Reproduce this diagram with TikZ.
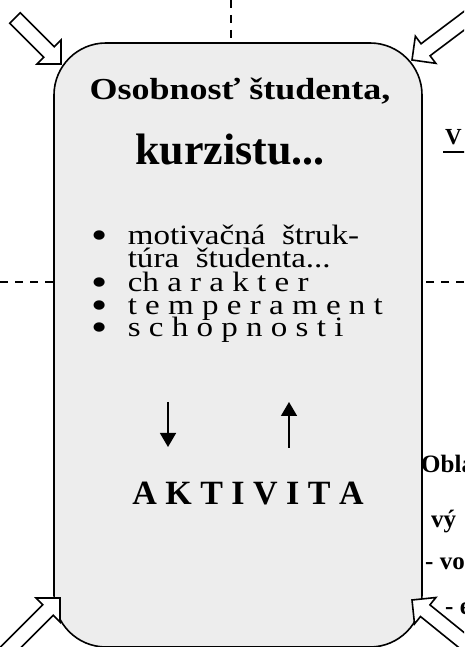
\documentclass[tikz,border=0pt]{standalone}
\usepackage{fontspec}
\setmainfont{Liberation Serif}
\newfontfamily\widefont{Liberation Serif}[FakeStretch=1.18]
\usetikzlibrary{arrows.meta,positioning}

\newcommand{\itembul}{\makebox[36pt][l]{\raisebox{-3.5pt}{\scalebox{1.4}{\textbullet}}}}

\begin{document}
\begin{tikzpicture}[
    x=1pt, y=1pt,
    card/.style={draw, line width=1.6pt, rounded corners=52pt, fill=black!7,
      minimum width=368pt, minimum height=604pt, inner sep=0pt},
    sep/.style={line width=1.5pt, dash pattern=on 8pt off 7pt},
    item/.style={anchor=base west, inner sep=0pt, font=\widefont\fontsize{28}{30}\selectfont},
    side/.style={anchor=base west, inner sep=0pt, font=\fontsize{25}{28}\selectfont\bfseries},
    arr/.style={-{Triangle[width=16pt,length=14pt]}, line width=1.5pt},
    openarr/.style={draw, line width=1.6pt, fill=white, line join=miter},
    pics/hollow/.style={code={
      \path[openarr] (0,0) -- (-17,17) -- (-17,7.5) -- (-#1,7.5) -- (-#1,-7.5)
        -- (-17,-7.5) -- (-17,-17) -- cycle;}}
  ]
    \useasboundingbox (0,0) rectangle (464,647);
    \clip (0,0) rectangle (464,647);
    % dashed guide lines
    \coordinate (top) at (231,647);
    \coordinate (lft) at (0,365);
    \coordinate (rgt) at (464,365);
    \node[card] (card) at (238,302) {};
    \draw[sep] (top) -- (top |- card.north);
    \draw[sep] (lft) -- (lft -| card.west);
    \draw[sep] (rgt) -- (rgt -| card.east);
    % texts in the card
    \node[anchor=base, font=\widefont\fontsize{30.5}{36}\selectfont\bfseries] (title) at (240,547) {Osobnosť študenta,};
    \node[anchor=base, font=\fontsize{44}{50}\selectfont\bfseries] (kurz) at (230,482) {kurzistu...};
    \node[item] (motiv) at (91.6,402) {\itembul motivačná\hspace{0.3em} štruk-};
    \node[item] (motivb) at (127.6,379) {túra\hspace{0.3em} študenta...};
    \node[item] (char) at (91.6,355) {\itembul ch a r a k t e r};
    \node[item] (temp) at (91.6,332) {\itembul t e m p e r a m e n t};
    \node[item] (schop) at (91.6,310) {\itembul s c h o p n o s t i};
    \node[anchor=base, font=\fontsize{34}{40}\selectfont\bfseries] (aktiv) at (248,142) {A K T I V I T A};
    \coordinate (dnA) at (168,245);
    \coordinate (dnB) at (168,200);
    \coordinate (upA) at (289,199);
    \coordinate (upB) at (289,245);
    \draw[arr] (dnA) -- (dnB);
    \draw[arr] (upA) -- (upB);
    % texts on the right, cut by the edge
    \node[anchor=base west, inner sep=0pt, font=\fontsize{23}{28}\selectfont\bfseries] (vtxt) at (445,502) {V};
    \draw[line width=2pt] ([xshift=-2pt,yshift=-7pt]vtxt.base west) -- ++(30,0);
    \node[side] (obl) at (421,174) {Obla};
    \node[side] (vy) at (431,119) {vý};
    \node[side] (vo) at (425,77) {- vo};
    \node[side] (ee) at (445,32) {- e};
    % open arrows at the corners
    \pic[rotate=-45] at (61,583) {hollow=65};
    \pic[rotate=217] at (412,587) {hollow=90};
    \pic[rotate=45] at (60,49) {hollow=90};
    \pic[rotate=141] at (412,47) {hollow=90};
  \end{tikzpicture}
\end{document}
